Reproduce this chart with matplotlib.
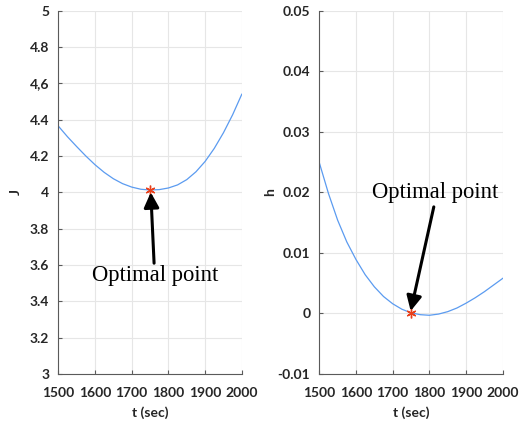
import matplotlib

matplotlib.use("Agg")
import matplotlib.pyplot as plt

T = [1500, 1525, 1550, 1575, 1600, 1625, 1650, 1675, 1700, 1725, 1750,
     1775, 1800, 1825, 1850, 1875, 1900, 1925, 1950, 1975, 2000]
J = [4.365, 4.306, 4.252, 4.200, 4.152, 4.110, 4.075, 4.048, 4.029, 4.017, 4.013,
     4.015, 4.024, 4.041, 4.070, 4.113, 4.170, 4.242, 4.328, 4.427, 4.540]
H = [0.0249, 0.0198, 0.0154, 0.0118, 0.0089, 0.0064, 0.0044, 0.0028, 0.0016, 0.0007, 0.0001,
     -0.0002, -0.0003, -0.0001, 0.0003, 0.0009, 0.0017, 0.0026, 0.0036, 0.0047, 0.0058]

OPT_T = 1750
OPT_J = 4.013
OPT_H = 0.0

J_TICKS = [3, 3.2, 3.4, 3.6, 3.8, 4, 4.2, 4.4, 4.6, 4.8, 5]
J_LABELS = ["3", "3.2", "3.4", "3.6", "3.8", "4", "4.2", "4.4", "4,6", "4.8", "5"]
H_TICKS = [-0.01, 0, 0.01, 0.02, 0.03, 0.04, 0.05]
H_LABELS = ["-0.01", "0", "0.01", "0.02", "0.03", "0.04", "0.05"]
T_TICKS = [1500, 1600, 1700, 1800, 1900, 2000]

LINE = "#5b9bf0"
STAR = "#e8401c"
TICK_FONT = dict(family="Lato", weight="bold", size=10, color="#262626")
SERIF = dict(family="Liberation Serif", size=16.3)


def style_axes(ax, yticks, ylabels, ylabel, ylabel_x):
    ax.set_xlim(1500, 2000)
    ax.set_xticks(T_TICKS)
    ax.set_xticklabels([str(t) for t in T_TICKS], fontdict=TICK_FONT)
    ax.set_ylim(yticks[0], yticks[-1])
    ax.set_yticks(yticks)
    ax.set_yticklabels(ylabels, fontdict=TICK_FONT)
    ax.set_xlabel("t (sec)", fontdict=TICK_FONT)
    ax.set_ylabel(ylabel, fontdict=TICK_FONT)
    ax.xaxis.set_label_coords(0.5, -0.105)
    ax.xaxis.label.set_va("center")
    ax.yaxis.set_label_coords(ylabel_x, 0.5)
    ax.yaxis.label.set_va("center")
    ax.grid(True, color="#e6e6e6", linewidth=0.8)
    ax.set_axisbelow(True)
    for side in ("top", "right"):
        ax.spines[side].set_visible(False)
    for side in ("left", "bottom"):
        ax.spines[side].set_color("#5a5a5a")
        ax.spines[side].set_linewidth(0.8)
    ax.tick_params(direction="in", length=3, color="#5a5a5a")
    ax.tick_params(axis="x", pad=9)
    ax.tick_params(axis="y", pad=6.5)


fig = plt.figure(figsize=(5.22, 4.22), dpi=100)
ax1 = fig.add_axes([0.1117, 0.1137, 0.3515, 0.861])
ax2 = fig.add_axes([0.6117, 0.1137, 0.3515, 0.861])

asterisk = (6, 2, 0)

ax1.plot(T, J, color=LINE, linewidth=0.9)
ax1.plot([OPT_T], [OPT_J], marker=asterisk, color=STAR, markersize=7, markeredgewidth=1)
ax1.annotate("", xy=(1752, 4.0), xytext=(1761, 3.61),
             arrowprops=dict(arrowstyle="-|>,head_length=0.9,head_width=0.45",
                             color="black", lw=2.2, shrinkA=0, shrinkB=0))
ax1.text(1763, 3.54, "Optimal point", ha="center", va="center", **SERIF)
style_axes(ax1, J_TICKS, J_LABELS, "J", -0.23)

ax2.plot(T, H, color=LINE, linewidth=0.9)
ax2.plot([OPT_T], [OPT_H], marker=asterisk, color=STAR, markersize=7, markeredgewidth=1)
ax2.annotate("", xy=(1749, 0.0004), xytext=(1812, 0.0176),
             arrowprops=dict(arrowstyle="-|>,head_length=0.9,head_width=0.45",
                             color="black", lw=2.2, shrinkA=0, shrinkB=0))
ax2.text(1815, 0.0199, "Optimal point", ha="center", va="center", **SERIF)
style_axes(ax2, H_TICKS, H_LABELS, "h", -0.27)

fig.savefig("out.png", dpi=100, facecolor="white")
